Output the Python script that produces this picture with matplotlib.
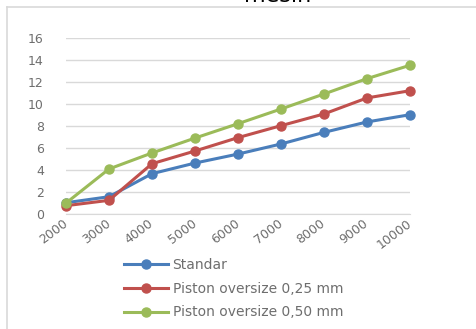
import matplotlib
matplotlib.use('Agg')
import matplotlib.pyplot as plt
from matplotlib.lines import Line2D

rpm = ['2000', '3000', '4000', '5000', '6000', '7000', '8000', '9000', '10000']
standar = [1.0, 1.55, 3.65, 4.62, 5.44, 6.36, 7.42, 8.37, 9.03]
oversize_025 = [0.73, 1.22, 4.56, 5.72, 6.94, 8.03, 9.10, 10.56, 11.22]
oversize_050 = [0.97, 4.08, 5.54, 6.90, 8.21, 9.55, 10.92, 12.32, 13.54]
labels = ['Standar', 'Piston oversize 0,25 mm', 'Piston oversize 0,50 mm']
colors = ['#4a7ebb', '#c0504d', '#9bbb59']

W, H = 477, 329
fig = plt.figure(figsize=(W / 100, H / 100), dpi=100)
ax = fig.add_axes([66 / W, 1 - 213.7 / H, (410 - 66) / W, (213.7 - 38.3) / H])

x = list(range(len(rpm)))
for ys, c, lab in zip([standar, oversize_025, oversize_050], colors, labels):
    ax.plot(x, ys, color=c, lw=2.2, marker='o', ms=6.5, label=lab, clip_on=False, zorder=3)

ax.set_xlim(0, len(rpm) - 1)
ax.set_ylim(0, 16)
ax.set_yticks(range(0, 17, 2))
ax.set_xticks(x)
ax.set_xticklabels(rpm, rotation=37, ha='right', va='center', rotation_mode='anchor')
ax.grid(axis='y', color='#d9d9d9', lw=1)
ax.set_axisbelow(True)
for s in ['top', 'right', 'left']:
    ax.spines[s].set_visible(False)
ax.spines['bottom'].set_color('#d9d9d9')
ax.tick_params(axis='both', length=0, colors='#6e6e6e', labelsize=9)
ax.tick_params(axis='y', pad=16)
ax.tick_params(axis='x', pad=6)

# chart border (top and left edges visible in the crop)
fig.add_artist(Line2D([7 / W, 7 / W], [0, 1 - 7 / H], color='#d9d9d9', lw=1.2))
fig.add_artist(Line2D([7 / W, 1], [1 - 7 / H, 1 - 7 / H], color='#d9d9d9', lw=1.2))

# title, mostly cut off at top of the crop
fig.text(278 / W, 1 - 2.5 / H, 'mesin', fontsize=16, ha='center', va='baseline', color='#000000')

fig.legend(loc='upper left', bbox_to_anchor=(124 / W, 1 - 258 / H), frameon=False,
           fontsize=10, handlelength=3.2, handletextpad=0.3, labelspacing=0.7,
           borderpad=0, borderaxespad=0, labelcolor='#6e6e6e')

fig.savefig('out.png', dpi=100)
